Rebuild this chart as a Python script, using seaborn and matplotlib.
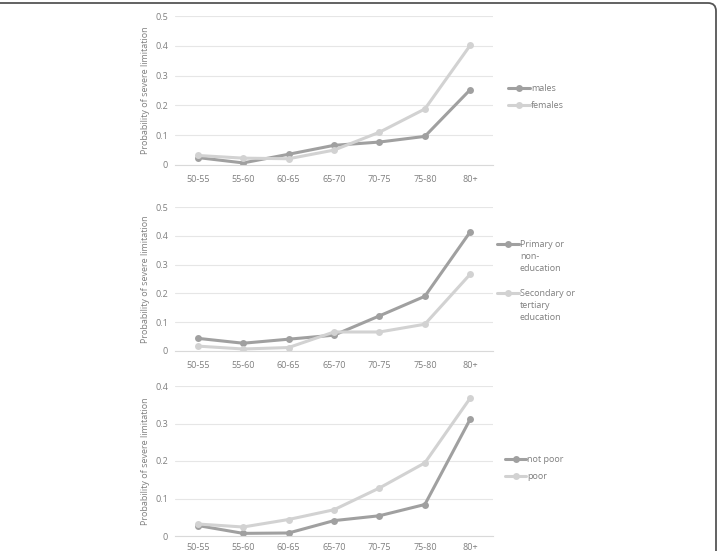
import numpy as np
import pandas as pd
import seaborn as sns
import matplotlib
matplotlib.use("Agg")
import matplotlib.pyplot as plt
from matplotlib.path import Path
from matplotlib.patches import PathPatch
from matplotlib.lines import Line2D

sns.set_theme(style="white")
plt.rcParams['font.family'] = ['Open Sans', 'DejaVu Sans']

categories = ["50-55", "55-60", "60-65", "65-70", "70-75", "75-80", "80+"]

males = [0.025, 0.007, 0.036, 0.066, 0.077, 0.096, 0.253]
females = [0.032, 0.023, 0.021, 0.050, 0.110, 0.188, 0.402]

primary = [0.044, 0.027, 0.041, 0.055, 0.122, 0.190, 0.414]
secondary = [0.017, 0.007, 0.012, 0.066, 0.066, 0.093, 0.267]

not_poor = [0.028, 0.007, 0.008, 0.041, 0.054, 0.084, 0.312]
poor = [0.032, 0.024, 0.044, 0.070, 0.128, 0.195, 0.368]

panels = [
    (["males", "females"], [males, females], ["males", "females"], [0, 0.1, 0.2, 0.3, 0.4, 0.5], ["0", "0.1", "0.2", "0.3", "0.4", "0.5"], 0.5),
    (["Primary or non-education", "Secondary or tertiary education"], [primary, secondary],
     ["Primary or\nnon-\neducation", "Secondary or\ntertiary\neducation"], [0, 0.1, 0.2, 0.3, 0.4, 0.5], ["0", "0.1", "0.2", "0.3", "0.4", "0.5"], 0.5),
    (["not poor", "poor"], [not_poor, poor], ["not poor", "poor"], [0, 0.1, 0.2, 0.3, 0.4], ["0", "0.1", "0.2", "0.3", "0.4"], 0.4),
]

dark = "#a0a0a0"
light = "#d2d2d2"
txt = "#7f7f7f"

W, H = 718, 551
fig = plt.figure(figsize=(W / 100, H / 100), dpi=100)

# axes boxes in pixels: (top_px, bottom_px)
boxes = [(16, 165), (207, 351), (386, 536)]
left_px, right_px = 175, 493

# legend: handle start x, handle end x, y of each entry
legend_pos = [(508, 530, [88, 105]), (497, 519, [244, 293]), (505, 526, [459, 476])]

for i, ((names, series, labels, yt, ytl, ymax), (tp, bp), (hx0, hx1, ys)) in enumerate(zip(panels, boxes, legend_pos)):
    ax = fig.add_axes([left_px / W, 1 - bp / H, (right_px - left_px) / W, (bp - tp) / H])
    rows = []
    for n, s in zip(names, series):
        for c, v in zip(categories, s):
            rows.append({"age": c, "value": v, "group": n})
    df = pd.DataFrame(rows)
    sns.lineplot(data=df, x="age", y="value", hue="group", hue_order=names,
                 palette=[dark, light], marker="o", markersize=5, markeredgewidth=0,
                 linewidth=2.2, sort=False, ax=ax, legend=False)
    ax.set_xlim(-0.5, len(categories) - 0.5)
    ax.set_ylim(0, ymax)
    ax.set_yticks(yt)
    ax.set_yticklabels(ytl)
    ax.yaxis.grid(True, color="#e6e6e6", linewidth=0.8)
    ax.set_axisbelow(True)
    for sp in ["top", "right", "left"]:
        ax.spines[sp].set_visible(False)
    ax.spines["bottom"].set_color("#d9d9d9")
    ax.spines["bottom"].set_linewidth(0.8)
    ax.tick_params(axis="y", colors=txt, labelsize=6.5, length=0, pad=5)
    ax.tick_params(axis="x", colors=txt, labelsize=6.5, length=0, pad=7 if i < 2 else 5)
    ax.set_xlabel("")
    ax.set_ylabel("Probability of severe limitation", color=txt, fontsize=6.5, labelpad=4)
    # legend drawn manually so the handle sits on the first text line
    for col, lab, y in zip([dark, light], labels, ys):
        yf = 1 - y / H
        fig.add_artist(Line2D([hx0 / W, hx1 / W], [yf, yf], color=col, linewidth=2.2,
                              transform=fig.transFigure))
        fig.add_artist(Line2D([(hx0 + hx1) / 2 / W], [yf], color=col, marker="o",
                              markersize=5, markeredgewidth=0, transform=fig.transFigure))
        fig.text((hx1 + 1) / W, yf + 4 / H, lab, color=txt, fontsize=6.5, va="top",
                 ha="left", linespacing=1.45)

# rounded frame (top and right edges)
r = 8
x0, x1 = 0, 716
y0, y1 = 3, H + 5
verts = [(x0 / W, 1 - y0 / H), ((x1 - r) / W, 1 - y0 / H), (x1 / W, 1 - y0 / H),
         (x1 / W, 1 - (y0 + r) / H), (x1 / W, 1 - y1 / H)]
codes = [Path.MOVETO, Path.LINETO, Path.CURVE3, Path.CURVE3, Path.LINETO]
fig.patches.append(PathPatch(Path(verts, codes), transform=fig.transFigure,
                             facecolor="none", edgecolor="#555555", linewidth=1.3))

fig.savefig("out.png", dpi=100)
